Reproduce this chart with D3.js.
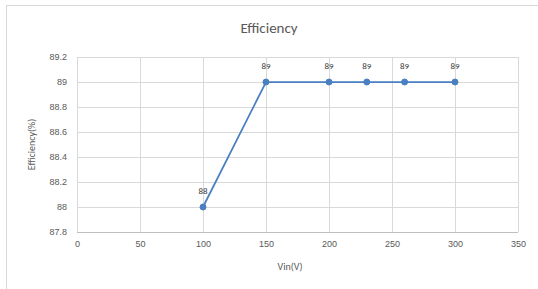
<!DOCTYPE html>
<html><head><meta charset="utf-8">
<script src="https://cdn.jsdelivr.net/npm/d3@7"></script>
<style>body{margin:0;background:#fff;}svg{display:block;font-family:Calibri,"Liberation Sans","DejaVu Sans",sans-serif;}</style>
</head><body><svg id="c" width="538" height="289"></svg>
<script>
const vin = [100, 150, 200, 230, 260, 300];
const efficiency = [88, 89, 89, 89, 89, 89];
const xTicks = [0, 50, 100, 150, 200, 250, 300, 350];
const yTicks = [87.8, 88, 88.2, 88.4, 88.6, 88.8, 89, 89.2];
const yTickLabels = ["87.8", "88", "88.2", "88.4", "88.6", "88.8", "89", "89.2"];

const svg = d3.select("#c");
svg.append("rect").attr("x", 6.5).attr("y", 5.5).attr("width", 540).attr("height", 300)
  .attr("fill", "#fff").attr("stroke", "#d9d9d9");

const x = d3.scaleLinear().domain([0, 350]).range([77, 518]);
const y = d3.scaleLinear().domain([87.8, 89.2]).range([232, 57]);

// gridlines
svg.append("g").selectAll("line.h").data(yTicks).join("line")
  .attr("x1", x(0)).attr("x2", x(350)).attr("y1", d => Math.round(y(d)) + 0.5).attr("y2", d => Math.round(y(d)) + 0.5)
  .attr("stroke", "#d9d9d9");
svg.append("g").selectAll("line.v").data(xTicks).join("line")
  .attr("y1", y(87.8)).attr("y2", y(89.2)).attr("x1", d => Math.round(x(d)) + 0.5).attr("x2", d => Math.round(x(d)) + 0.5)
  .attr("stroke", "#d9d9d9");
// bottom axis line
svg.append("line").attr("x1", x(0)).attr("x2", x(350)).attr("y1", Math.round(y(87.8)) + 0.5).attr("y2", Math.round(y(87.8)) + 0.5)
  .attr("stroke", "#bfbfbf");

// axes tick labels
const xAxis = d3.axisBottom(x).tickValues(xTicks).tickSize(0).tickPadding(9).tickFormat(d3.format("d"));
const gx = svg.append("g").attr("transform", `translate(0,${y(87.8)})`).call(xAxis);
gx.select(".domain").remove();
gx.selectAll("text").attr("fill", "#595959").attr("font-size", 9).style("font-family", "inherit");

const yAxis = d3.axisLeft(y).tickValues(yTicks).tickSize(0).tickPadding(10).tickFormat((d, i) => yTickLabels[i]);
const gy = svg.append("g").attr("transform", `translate(${x(0)},0)`).call(yAxis);
gy.select(".domain").remove();
gy.selectAll("text").attr("fill", "#595959").attr("font-size", 9).style("font-family", "inherit");

// title
svg.append("text").attr("x", 269).attr("y", 33).attr("text-anchor", "middle")
  .attr("font-size", 15).attr("font-weight", 300).attr("fill", "#595959").text("Efficiency");
// axis titles
svg.append("text").attr("x", 290).attr("y", 270).attr("text-anchor", "middle")
  .attr("font-size", 10).attr("fill", "#595959").text("Vin(V)");
svg.append("text").attr("transform", `translate(35,${(y(87.8)+y(89.2))/2}) rotate(-90)`).attr("text-anchor", "middle")
  .attr("font-size", 10).attr("fill", "#595959").text("Efficiency(%)");

const data = vin.map((v, i) => ({ v, e: efficiency[i] }));
const line = d3.line().x(d => x(d.v)).y(d => y(d.e));
svg.append("path").datum(data).attr("d", line).attr("fill", "none")
  .attr("stroke", "#4a7fc1").attr("stroke-width", 1.75);
svg.append("g").selectAll("circle").data(data).join("circle")
  .attr("cx", d => x(d.v)).attr("cy", d => y(d.e)).attr("r", 3)
  .attr("fill", "#4a7fc1").attr("stroke", "#4a7fc1");
svg.append("g").selectAll("text").data(data).join("text")
  .attr("x", d => x(d.v)).attr("y", d => y(d.e) - 13).attr("text-anchor", "middle")
  .attr("font-size", 9).attr("fill", "#404040").text(d => d.e);
</script></body></html>
